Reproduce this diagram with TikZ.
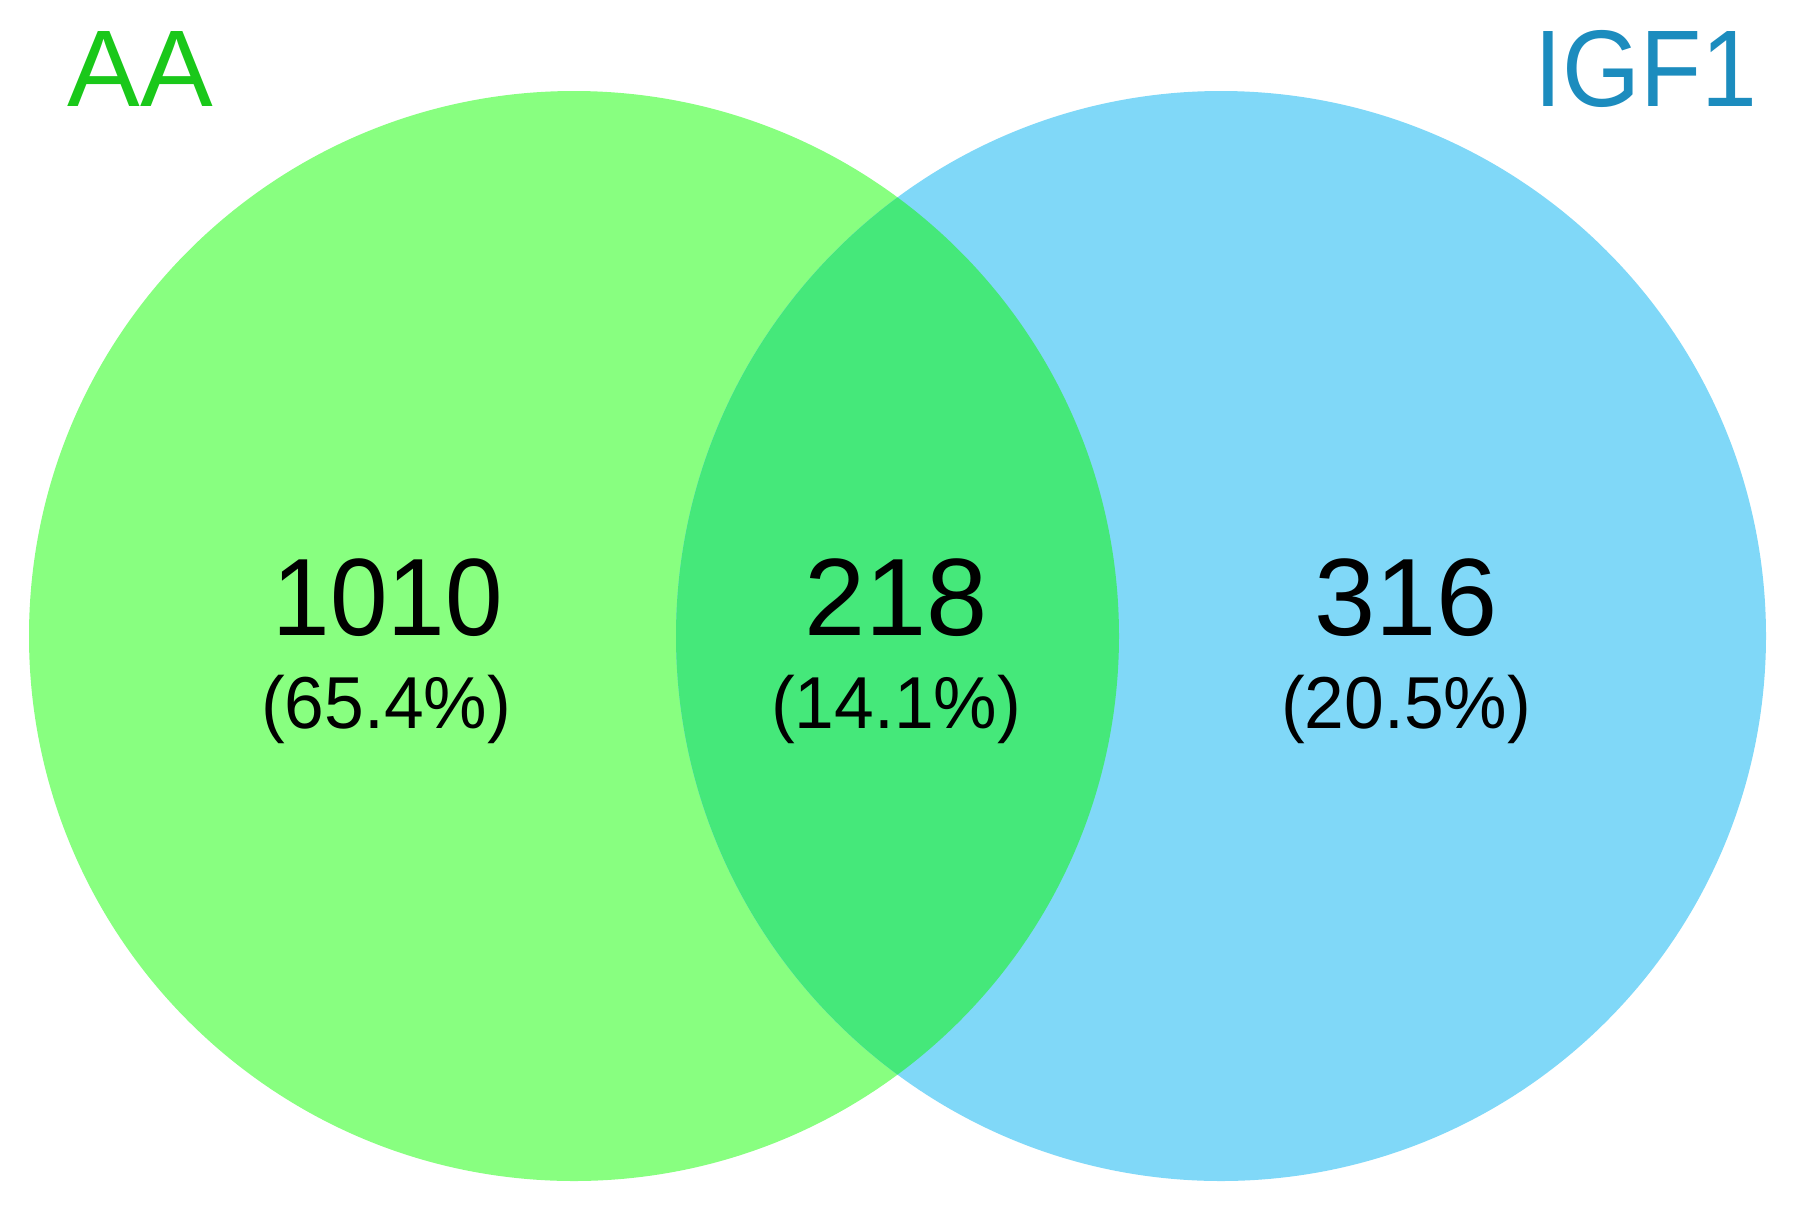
\documentclass[tikz,border=0pt]{standalone}
\usepackage{fontspec}
\setmainfont{Liberation Sans}
\definecolor{aafill}{RGB}{136,255,128}
\definecolor{igffill}{RGB}{128,216,248}
\definecolor{lensfill}{RGB}{69,232,122}
\definecolor{aatext}{RGB}{26,200,26}
\definecolor{igftext}{RGB}{28,140,190}
\begin{document}
\begin{tikzpicture}[x=0.5pt,y=-0.5pt,
  bignum/.style={inner sep=0pt,anchor=base,font=\fontsize{55pt}{60pt}\selectfont},
  pct/.style={inner sep=0pt,anchor=base,font=\fontsize{36.8pt}{42pt}\selectfont},
  setlabel/.style={inner sep=0pt,font=\fontsize{54.5pt}{60pt}\selectfont}]
\useasboundingbox[fill=white] (0,0) rectangle (1801,1206);
\fill[aafill] (574,636) circle[radius=545];
\fill[igffill] (1221,636) circle[radius=545];
\begin{scope}
  \clip (574,636) circle[radius=545];
  \fill[lensfill] (1221,636) circle[radius=545];
\end{scope}
\node[setlabel,anchor=base west,text=aatext] (aa) at (67,106) {AA};
\node[setlabel,anchor=base west,text=igftext,xscale=0.92] (igf) at (1534,106) {IGF1};
\node[bignum,xscale=0.94] (n1) at (388,635) {1010};
\node[pct,xscale=0.97] (p1) at (386,728) {(65.4\%)};
\node[bignum] (n2) at (896,635) {218};
\node[pct,xscale=0.97] (p2) at (896,728) {(14.1\%)};
\node[bignum] (n3) at (1406,635) {316};
\node[pct,xscale=0.97] (p3) at (1406,728) {(20.5\%)};
\end{tikzpicture}
\end{document}
